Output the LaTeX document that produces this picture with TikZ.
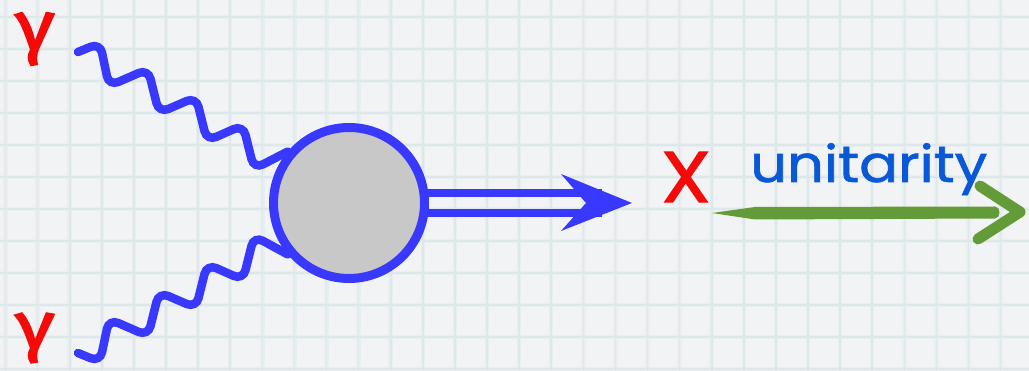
\documentclass[tikz,border=0pt]{standalone}
\usepackage{fontspec}
\setmainfont{Poppins}
\newfontfamily\gfont[FakeBold=2]{Fira Sans}
\newfontfamily\xfont[FakeBold=1.5]{Poppins}
\newfontfamily\ufont[FakeBold=1.2]{Poppins}
\definecolor{bgc}{RGB}{242,243,244}
\definecolor{gridc}{RGB}{222,231,234}
\definecolor{gridlc}{RGB}{233,238,240}
\definecolor{pblue}{RGB}{56,56,255}
\definecolor{blobgray}{RGB}{200,200,200}
\definecolor{lred}{RGB}{245,10,10}
\definecolor{ublue}{RGB}{8,88,216}
\definecolor{ugreen}{RGB}{98,155,55}
\tikzset{
  gridsoft/.style={gridlc, line width=4.5pt},
  gridhard/.style={gridc, line width=1.6pt},
  photon/.style={pblue, line width=8.5pt, rounded corners=10pt, line cap=round},
  dblline/.style={pblue, line width=8pt},
  blobstyle/.style={circle, draw=pblue, fill=blobgray, line width=9pt, minimum size=151pt, inner sep=0pt},
  glabel/.style={text=lred, inner sep=0pt, font=\gfont},
  xlabel/.style={text=lred, inner sep=0pt, font=\xfont},
  ulabel/.style={text=ublue, inner sep=0pt, anchor=base west},
  brush/.style={ugreen, line width=11pt, line cap=round, line join=round}
}
\begin{document}
\begin{tikzpicture}[x=1pt,y=-1pt]
\useasboundingbox (0,0) rectangle (1029,371);
\fill[bgc] (0,0) rectangle (1029,371);
\foreach \i in {0,...,32} {
  \draw[gridsoft] ({5.5+32.1*\i},0) -- ({5.5+32.1*\i},371);
}
\foreach \j in {0,...,11} {
  \draw[gridsoft] (0,{17+32*\j}) -- (1029,{17+32*\j});
}
\foreach \i in {0,...,32} {
  \draw[gridhard] ({5.5+32.1*\i},0) -- ({5.5+32.1*\i},371);
}
\foreach \j in {0,...,11} {
  \draw[gridhard] (0,{17+32*\j}) -- (1029,{17+32*\j});
}

% labels
\node[glabel] (g1) at (35,39) {\resizebox*{40pt}{53pt}{γ}};
\node[glabel] (g2) at (35,338) {\resizebox*{40pt}{50pt}{γ}};

% blob
\node[blobstyle] (blob) at (349,203) {};

% photons
\coordinate (p1) at (78,52);
\coordinate (p2) at (78,353);
\draw[photon] (p1) -- (100,43) -- (109,86) -- (148,69) -- (159,113) -- (196,97) -- (207,141) -- (243,125) -- (254,169) -- (blob.140);
\draw[photon] (p2) -- (100,362) -- (109,319) -- (148,336) -- (159,292) -- (196,308) -- (207,264) -- (243,280) -- (254,236) -- (blob.220);

% double arrow
\coordinate (xtip) at (632,203);
\draw[dblline] ([shift={(-5,-10)}]blob.east) -- ([shift={(-30,-10)}]xtip);
\draw[dblline] ([shift={(-5,10)}]blob.east) -- ([shift={(-30,10)}]xtip);
\fill[pblue] (xtip) -- ++(-71,-29) -- ++(25,29) -- ++(-25,28) -- cycle;

% X and unitarity
\node[xlabel] (X) at (686,177) {\resizebox*{50pt}{50pt}{X}};
\node[ulabel] (u) at (750,182) {\resizebox*{237pt}{52pt}{\ufont unitarity}};

% green arrow
\coordinate (ga) at (712,213);
\coordinate (gb) at (1020,212);
\fill[ugreen] (ga) -- (755,207) -- (995,206.5) .. controls (1001,206.5) and (1001,218.5) .. (995,218.5) -- (755,219.5) -- cycle;
\draw[brush] (980,186) -- (gb) -- (978,239);
\end{tikzpicture}
\end{document}
